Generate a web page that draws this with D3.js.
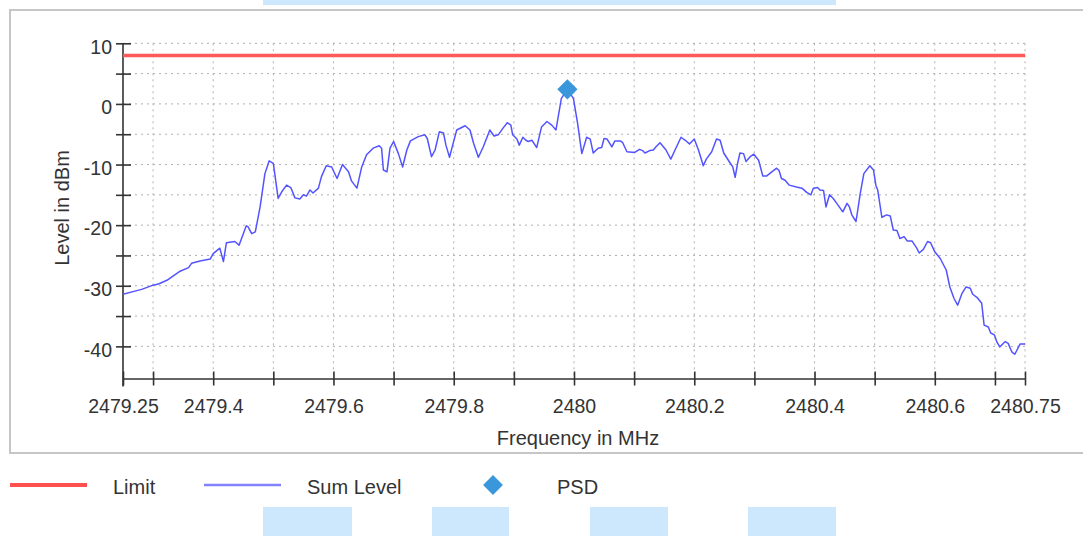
<!DOCTYPE html>
<html>
<head>
<meta charset="utf-8">
<script src="https://cdn.jsdelivr.net/npm/d3@7"></script>
<style>
   body { margin: 0; background: #fff; }
   text { font-family: "Liberation Sans", Arial, sans-serif; fill: #333; }
</style>
</head>
<body>
<div id="chart"></div>
<script>
//spectrum data
var freq = [2479.250, 2479.273, 2479.281, 2479.300, 2479.309, 2479.323, 2479.345, 2479.359, 2479.364, 2479.378,
   2479.395, 2479.400, 2479.411, 2479.417, 2479.422, 2479.436, 2479.443, 2479.455, 2479.458, 2479.464,
   2479.470, 2479.478, 2479.486, 2479.493, 2479.500, 2479.508, 2479.514, 2479.522, 2479.529, 2479.536,
   2479.544, 2479.550, 2479.555, 2479.561, 2479.566, 2479.575, 2479.580, 2479.588, 2479.597, 2479.606,
   2479.615, 2479.625, 2479.630, 2479.639, 2479.647, 2479.655, 2479.666, 2479.676, 2479.680, 2479.683,
   2479.689, 2479.694, 2479.700, 2479.708, 2479.715, 2479.722, 2479.728, 2479.741, 2479.752, 2479.756,
   2479.763, 2479.769, 2479.776, 2479.783, 2479.787, 2479.793, 2479.799, 2479.805, 2479.819, 2479.827,
   2479.833, 2479.841, 2479.849, 2479.860, 2479.867, 2479.874, 2479.882, 2479.889, 2479.895, 2479.898,
   2479.905, 2479.909, 2479.915, 2479.920, 2479.924, 2479.930, 2479.938, 2479.946, 2479.955, 2479.963,
   2479.970, 2479.979, 2479.989, 2479.999, 2480.006, 2480.013, 2480.021, 2480.027, 2480.032, 2480.040,
   2480.046, 2480.050, 2480.055, 2480.063, 2480.068, 2480.077, 2480.081, 2480.088, 2480.101, 2480.109,
   2480.114, 2480.118, 2480.126, 2480.132, 2480.136, 2480.143, 2480.153, 2480.161, 2480.168, 2480.178,
   2480.185, 2480.192, 2480.200, 2480.207, 2480.215, 2480.220, 2480.229, 2480.237, 2480.243, 2480.249,
   2480.258, 2480.264, 2480.268, 2480.272, 2480.276, 2480.282, 2480.286, 2480.293, 2480.299, 2480.307,
   2480.314, 2480.320, 2480.329, 2480.337, 2480.341, 2480.345, 2480.351, 2480.358, 2480.370, 2480.379,
   2480.387, 2480.394, 2480.398, 2480.405, 2480.409, 2480.415, 2480.419, 2480.425, 2480.431, 2480.437,
   2480.447, 2480.454, 2480.458, 2480.462, 2480.469, 2480.476, 2480.482, 2480.492, 2480.498, 2480.502,
   2480.505, 2480.512, 2480.520, 2480.526, 2480.531, 2480.537, 2480.542, 2480.549, 2480.554, 2480.562,
   2480.570, 2480.574, 2480.581, 2480.588, 2480.593, 2480.600, 2480.609, 2480.619, 2480.625, 2480.632,
   2480.638, 2480.645, 2480.652, 2480.659, 2480.663, 2480.670, 2480.678, 2480.682, 2480.689, 2480.693,
   2480.699, 2480.703, 2480.708, 2480.717, 2480.722, 2480.728, 2480.733, 2480.742, 2480.750];

var sumLevel = [-31.4, -30.8, -30.6, -29.9, -29.7, -29.1, -27.6, -27.0, -26.3, -25.9,
   -25.6, -24.7, -23.8, -26.0, -22.9, -22.7, -23.3, -20.1, -20.3, -21.4,
   -21.1, -17.0, -11.5, -9.4, -9.8, -15.6, -14.5, -13.4, -13.8, -15.5,
   -15.7, -15.0, -15.2, -14.2, -14.7, -13.9, -12.0, -10.2, -10.4, -12.3,
   -10.0, -11.2, -12.7, -13.9, -10.4, -8.4, -7.3, -6.9, -7.3, -10.9,
   -11.2, -7.3, -6.2, -8.2, -10.4, -7.6, -6.1, -5.4, -5.1, -5.7,
   -8.7, -7.6, -4.6, -4.8, -6.8, -8.8, -6.5, -4.3, -3.6, -4.3,
   -6.5, -8.8, -7.1, -4.3, -5.3, -5.1, -4.0, -3.1, -3.5, -5.1,
   -5.8, -6.8, -5.5, -6.0, -6.2, -6.0, -7.2, -3.8, -2.9, -3.5,
   -4.3, 0.9, 2.4, 0.9, -3.2, -8.2, -5.5, -5.8, -8.1, -7.3,
   -7.2, -5.7, -5.8, -7.1, -6.1, -6.1, -6.4, -7.9, -8.0, -7.5,
   -7.7, -8.1, -7.7, -7.6, -7.1, -6.4, -7.6, -9.1, -7.6, -5.5,
   -6.0, -6.6, -5.8, -7.6, -10.2, -9.1, -7.9, -5.8, -6.0, -8.1,
   -9.5, -10.4, -12.1, -9.8, -8.1, -8.2, -9.5, -8.7, -8.3, -9.3,
   -11.9, -11.9, -11.2, -10.6, -11.0, -12.3, -12.6, -13.4, -13.7, -13.9,
   -14.6, -15.0, -13.9, -13.8, -14.2, -14.3, -17.0, -15.0, -15.6, -16.4,
   -17.8, -16.4, -17.0, -18.3, -19.4, -14.8, -11.5, -10.2, -10.9, -13.4,
   -14.2, -18.7, -18.3, -18.5, -20.8, -20.9, -22.2, -21.9, -22.6, -22.6,
   -23.8, -24.6, -24.0, -22.7, -22.9, -24.4, -25.5, -27.4, -30.2, -32.1,
   -33.2, -31.3, -30.2, -30.4, -31.4, -31.9, -32.9, -36.5, -36.8, -37.8,
   -38.1, -39.2, -40.1, -39.2, -39.5, -40.9, -41.3, -39.6, -39.6];

var limitLevel = 8;
var psdFreq = [2479.989];
var psdLevel = [2.4];

var xTicks = [2479.25, 2479.3, 2479.4, 2479.5, 2479.6, 2479.7, 2479.8, 2479.9, 2480,
   2480.1, 2480.2, 2480.3, 2480.4, 2480.5, 2480.6, 2480.7, 2480.75];
var xLabels = ["2479.25", "2479.4", "2479.6", "2479.8", "2480", "2480.2", "2480.4", "2480.6", "2480.75"];
var yTicks = [10, 5, 0, -5, -10, -15, -20, -25, -30, -35, -40];
var yLabels = ["10", "0", "-10", "-20", "-30", "-40"];

var legendNames = ["Limit", "Sum Level", "PSD"];

function main() {
   drawSpectrum();
}

function drawSpectrum() {
   var left = 123, right = 1025, top = 43.3, bottom = 378.5;

   var svg = d3.select("#chart").append("svg")
      .attr("width", 1083)
      .attr("height", 536);

   //the light blue bits around the frame
   svg.append("rect").attr("x", 263).attr("y", 0).attr("width", 573).attr("height", 5).attr("fill", "#cde8fc");
   [[263, 352], [432, 509], [590, 668], [748, 836]].forEach(function(b) {
      svg.append("rect").attr("x", b[0]).attr("y", 507).attr("width", b[1] - b[0]).attr("height", 29)
         .attr("fill", "#cde8fc");
   });

   //frame
   svg.append("rect")
      .attr("x", 10).attr("y", 10).attr("width", 1085).attr("height", 443)
      .attr("fill", "#fff")
      .attr("stroke", "#c6c6c6")
      .attr("stroke-width", 2);

   var x = d3.scaleLinear().domain([2479.25, 2480.75]).range([left, right]);
   var y = d3.scaleLinear().domain([-45.3, 10]).range([bottom, top]);

   //dotted grid
   svg.append("g").selectAll("line")
      .data(yTicks)
      .enter().append("line")
         .attr("x1", left).attr("x2", right)
         .attr("y1", function(d) { return y(d); })
         .attr("y2", function(d) { return y(d); })
         .attr("stroke", "#b0b0b0").attr("stroke-dasharray", "2,4");
   svg.append("g").selectAll("line")
      .data(xTicks.slice(1))
      .enter().append("line")
         .attr("x1", function(d) { return x(d); })
         .attr("x2", function(d) { return x(d); })
         .attr("y1", top).attr("y2", bottom)
         .attr("stroke", "#b0b0b0").attr("stroke-dasharray", "2,4");

   //axes
   var xAxis = d3.axisBottom(x)
      .tickValues(xTicks)
      .tickSizeOuter(0)
      .tickFormat(function(d) {
         var s = String(+d.toFixed(2));
         return xLabels.indexOf(s) >= 0 ? s : "";
      });
   var gx = svg.append("g")
      .attr("transform", "translate(0," + bottom + ")")
      .call(xAxis);
   gx.select(".domain").attr("stroke", "#333").attr("stroke-width", 1.6);
   gx.selectAll(".tick line").attr("y1", -7).attr("y2", 7).attr("stroke", "#333").attr("stroke-width", 1.6);
   gx.selectAll(".tick text")
      .attr("y", 34.8).attr("dy", 0)
      .style("font-size", "19.5px")
      .style("font-family", "'Liberation Sans', Arial, sans-serif")
      .attr("fill", "#333");

   var yAxis = d3.axisLeft(y)
      .tickValues(yTicks)
      .tickSizeOuter(0)
      .tickFormat(function(d) {
         return yLabels.indexOf(String(d)) >= 0 ? String(d) : "";
      });
   var gy = svg.append("g")
      .attr("transform", "translate(" + left + ",0)")
      .call(yAxis);
   gy.select(".domain").attr("d", "M0," + top + "V" + (bottom + 8))
      .attr("stroke", "#333").attr("stroke-width", 1.6);
   gy.selectAll(".tick line").attr("x1", -7).attr("x2", 8).attr("stroke", "#333").attr("stroke-width", 1.6);
   gy.selectAll(".tick text")
      .attr("x", -11).attr("dy", "0.5em")
      .style("font-size", "19.5px")
      .style("font-family", "'Liberation Sans', Arial, sans-serif")
      .attr("fill", "#333");

   //axis titles
   svg.append("text")
      .attr("x", 578).attr("y", 445)
      .attr("text-anchor", "middle")
      .style("font-size", "20px")
      .text("Frequency in MHz");
   svg.append("text")
      .attr("transform", "translate(68.5,208) rotate(-90)")
      .attr("text-anchor", "middle")
      .style("font-size", "20px")
      .text("Level in dBm");

   //limit line
   svg.append("line")
      .attr("x1", x(2479.25)).attr("x2", x(2480.75))
      .attr("y1", y(limitLevel)).attr("y2", y(limitLevel))
      .attr("stroke", "#ff5a5a")
      .attr("stroke-width", 3.5);

   //sum level trace
   var line = d3.line()
      .x(function(d, i) { return x(freq[i]); })
      .y(function(d) { return y(d); });
   svg.append("path")
      .datum(sumLevel)
      .attr("d", line)
      .attr("fill", "none")
      .attr("stroke", "#5454ff")
      .attr("stroke-width", 1.5)
      .attr("stroke-linejoin", "round");

   //PSD marker
   var diamond = d3.symbol().type(d3.symbolDiamond2).size(260);
   svg.selectAll(".psd")
      .data(psdLevel)
      .enter().append("path")
         .attr("class", "psd")
         .attr("d", diamond)
         .attr("transform", function(d, i) { return "translate(" + x(psdFreq[i]) + "," + y(d) + ")"; })
         .attr("fill", "#3a97db");

   //legend
   var lg = svg.append("g");
   lg.append("line").attr("x1", 10).attr("x2", 87).attr("y1", 485).attr("y2", 485)
      .attr("stroke", "#ff5050").attr("stroke-width", 4);
   lg.append("line").attr("x1", 204).attr("x2", 281).attr("y1", 485).attr("y2", 485)
      .attr("stroke", "#8282ff").attr("stroke-width", 2.5);
   lg.append("path").attr("d", d3.symbol().type(d3.symbolDiamond2).size(250))
      .attr("transform", "translate(493,485)")
      .attr("fill", "#3a97db");
   var textX = [113, 307, 557];
   lg.selectAll("text")
      .data(legendNames)
      .enter().append("text")
         .attr("x", function(d, i) { return textX[i]; })
         .attr("y", 494)
         .style("font-size", "20px")
         .text(function(d) { return d; });
}

main();
</script>
</body>
</html>
